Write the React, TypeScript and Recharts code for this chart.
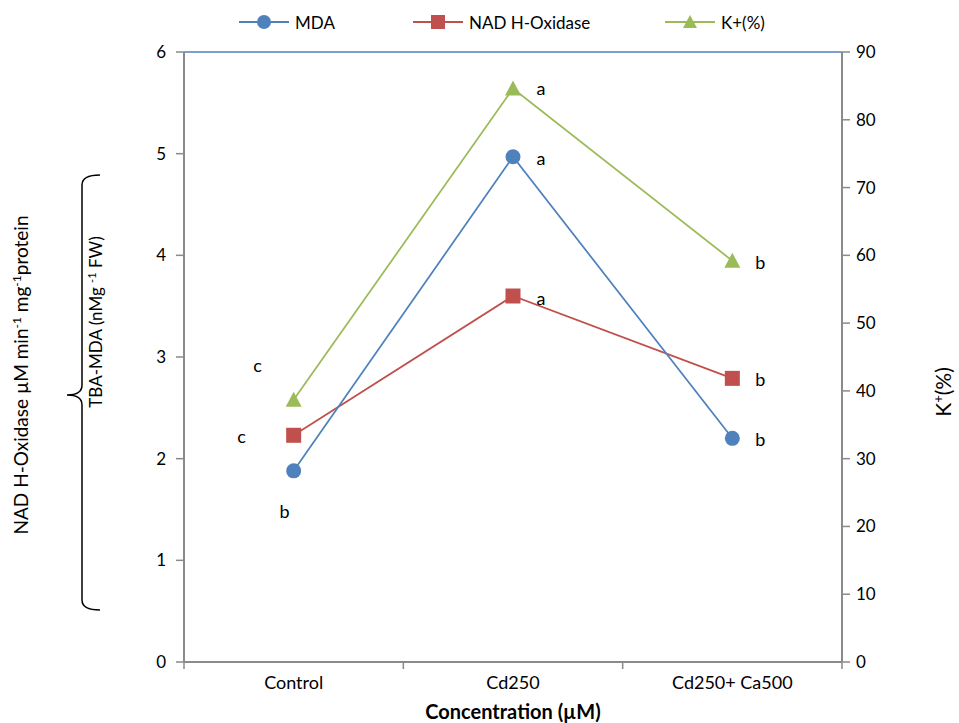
import { LineChart, Line, XAxis, YAxis, ReferenceLine, LabelList } from 'recharts';

const categories = ['Control', 'Cd250', 'Cd250+ Ca500'];
const mdaValues = [1.88, 4.97, 2.2];
const nadValues = [2.23, 3.6, 2.79];
const kValues = [38.7, 84.6, 59.2];
const mdaLetters = ['b', 'a', 'b'];
const nadLetters = ['c', 'a', 'b'];
const kLetters = ['c', 'a', 'b'];
const leftTicks = [0, 1, 2, 3, 4, 5, 6];
const rightTicks = [0, 10, 20, 30, 40, 50, 60, 70, 80, 90];
const xTicks = [0, 0.5, 1, 1.5, 2, 2.5, 3];

const BLUE = '#4F81BD';
const RED = '#C0504D';
const GREEN = '#9BBB59';
const AXIS = '#8a8a8a';
const FONT = 'Lato, "Open Sans", sans-serif';

const chartData = categories.map((c, i) => ({
  x: i + 0.5,
  name: c,
  mda: mdaValues[i],
  nad: nadValues[i],
  k: kValues[i],
  mdaL: mdaLetters[i],
  nadL: nadLetters[i],
  kL: kLetters[i],
}));

// letter offsets from the point, per category
const mdaOffsets = [[-9, 40], [28, 1], [28, 1]];
const nadOffsets = [[-52, 1], [28, 2], [28, 1]];
const kOffsets = [[-36, -35], [28, -1], [28, 1]];

function letterRenderer(offsets: number[][]) {
  return (props: any) => {
    const { x, y, index, value } = props;
    const [dx, dy] = offsets[index];
    return (
      <text x={x + dx} y={y + dy} fontSize={18} fontFamily={FONT} fill="#000" textAnchor="middle" dominantBaseline="central">
        {value}
      </text>
    );
  };
}

function XTick(props: any) {
  const { x, y, payload } = props;
  const v = payload.value as number;
  if (Number.isInteger(v)) {
    return <line x1={x} x2={x} y1={y} y2={y + 7} stroke={AXIS} strokeWidth={1.5} />;
  }
  return (
    <text x={x} y={y + 27} fontSize={18} fontFamily={FONT} fill="#000" textAnchor="middle">
      {categories[Math.floor(v)]}
    </text>
  );
}

function Circle(props: any) {
  const { cx, cy } = props;
  return <circle cx={cx} cy={cy} r={7.5} fill={BLUE} />;
}

function Square(props: any) {
  const { cx, cy } = props;
  return <rect x={cx - 7.5} y={cy - 7.5} width={15} height={15} fill={RED} />;
}

function Triangle(props: any) {
  const { cx, cy } = props;
  return <polygon points={`${cx},${cy - 8} ${cx + 8},${cy + 7} ${cx - 8},${cy + 7}`} fill={GREEN} />;
}

function LegendItem({ left, color, label, marker }: { left: number; color: string; label: string; marker: 'c' | 's' | 't' }) {
  return (
    <div style={{ position: 'absolute', left, top: 10, display: 'flex', alignItems: 'center' }}>
      <svg width={50} height={24}>
        <line x1={0} x2={50} y1={12} y2={12} stroke={color} strokeWidth={2} />
        {marker === 'c' && <circle cx={25} cy={12} r={7} fill={color} />}
        {marker === 's' && <rect x={18} y={5} width={14} height={14} fill={color} />}
        {marker === 't' && <polygon points="25,5 32,18 18,18" fill={color} />}
      </svg>
      <span style={{ marginLeft: 6, fontSize: 17, fontFamily: FONT }}>{label}</span>
    </div>
  );
}

export default function App() {
  return (
    <div style={{ position: 'absolute', left: 0, top: 0, width: 959, height: 723, background: '#fff', fontFamily: FONT }}>
      <LineChart width={959} height={723} data={chartData} margin={{ top: 52, right: 77, bottom: 31, left: 144 }}>
        <XAxis
          dataKey="x"
          type="number"
          domain={[0, 3]}
          ticks={xTicks}
          interval={0}
          tick={<XTick />}
          tickLine={false}
          tickSize={0}
          tickMargin={0}
          height={30}
          axisLine={{ stroke: AXIS, strokeWidth: 2 }}
        />
        <YAxis
          yAxisId="left"
          domain={[0, 6]}
          ticks={leftTicks}
          width={40}
          tickSize={8}
          tickMargin={10}
          tickLine={{ stroke: AXIS, strokeWidth: 1.5 }}
          axisLine={{ stroke: AXIS, strokeWidth: 2 }}
          tick={{ fill: '#000', fontSize: 17, fontFamily: FONT }}
        />
        <YAxis
          yAxisId="right"
          orientation="right"
          domain={[0, 90]}
          ticks={rightTicks}
          width={40}
          tickSize={8}
          tickMargin={6}
          tickLine={{ stroke: AXIS, strokeWidth: 1.5 }}
          axisLine={{ stroke: AXIS, strokeWidth: 2 }}
          tick={{ fill: '#000', fontSize: 17, fontFamily: FONT }}
        />
        <ReferenceLine yAxisId="left" y={6} stroke={BLUE} strokeWidth={1.5} />
        <Line yAxisId="right" dataKey="k" stroke={GREEN} strokeWidth={1.75} dot={<Triangle />} activeDot={false} isAnimationActive={false}>
          <LabelList dataKey="kL" content={letterRenderer(kOffsets)} />
        </Line>
        <Line yAxisId="left" dataKey="nad" stroke={RED} strokeWidth={1.75} dot={<Square />} activeDot={false} isAnimationActive={false}>
          <LabelList dataKey="nadL" content={letterRenderer(nadOffsets)} />
        </Line>
        <Line yAxisId="left" dataKey="mda" stroke={BLUE} strokeWidth={1.75} dot={<Circle />} activeDot={false} isAnimationActive={false}>
          <LabelList dataKey="mdaL" content={letterRenderer(mdaOffsets)} />
        </Line>
      </LineChart>

      <LegendItem left={239} color={BLUE} label="MDA" marker="c" />
      <LegendItem left={413} color={RED} label="NAD H-Oxidase" marker="s" />
      <LegendItem left={665} color={GREEN} label="K+(%)" marker="t" />

      <svg width={959} height={723} style={{ position: 'absolute', left: 0, top: 0, pointerEvents: 'none' }}>
        <text x={513} y={719} textAnchor="middle" fontSize={20} fontWeight="bold" fontFamily={FONT}>
          Concentration (µM)
        </text>
        <text transform="translate(28,375) rotate(-90)" textAnchor="middle" fontSize={19} fontFamily={FONT}>
          NAD H-Oxidase µM min<tspan baselineShift="super" fontSize={12}>-1</tspan> mg<tspan baselineShift="super" fontSize={12}>-1</tspan>protein
        </text>
        <text transform="translate(102,322) rotate(-90)" textAnchor="middle" fontSize={17} fontFamily={FONT}>
          TBA-MDA (nMg <tspan baselineShift="super" fontSize={11}>-1</tspan> FW)
        </text>
        <path
          d="M100,175 Q82,175 82,185 L82,385 Q82,395 67,395 Q82,395 82,405 L82,600 Q82,610 100,610"
          fill="none"
          stroke="#000"
          strokeWidth={1.5}
        />
        <text transform="translate(951,392) rotate(-90)" textAnchor="middle" fontSize={21} fontFamily={FONT}>
          K<tspan baselineShift="super" fontSize={13}>+</tspan>(%)
        </text>
      </svg>
    </div>
  );
}
